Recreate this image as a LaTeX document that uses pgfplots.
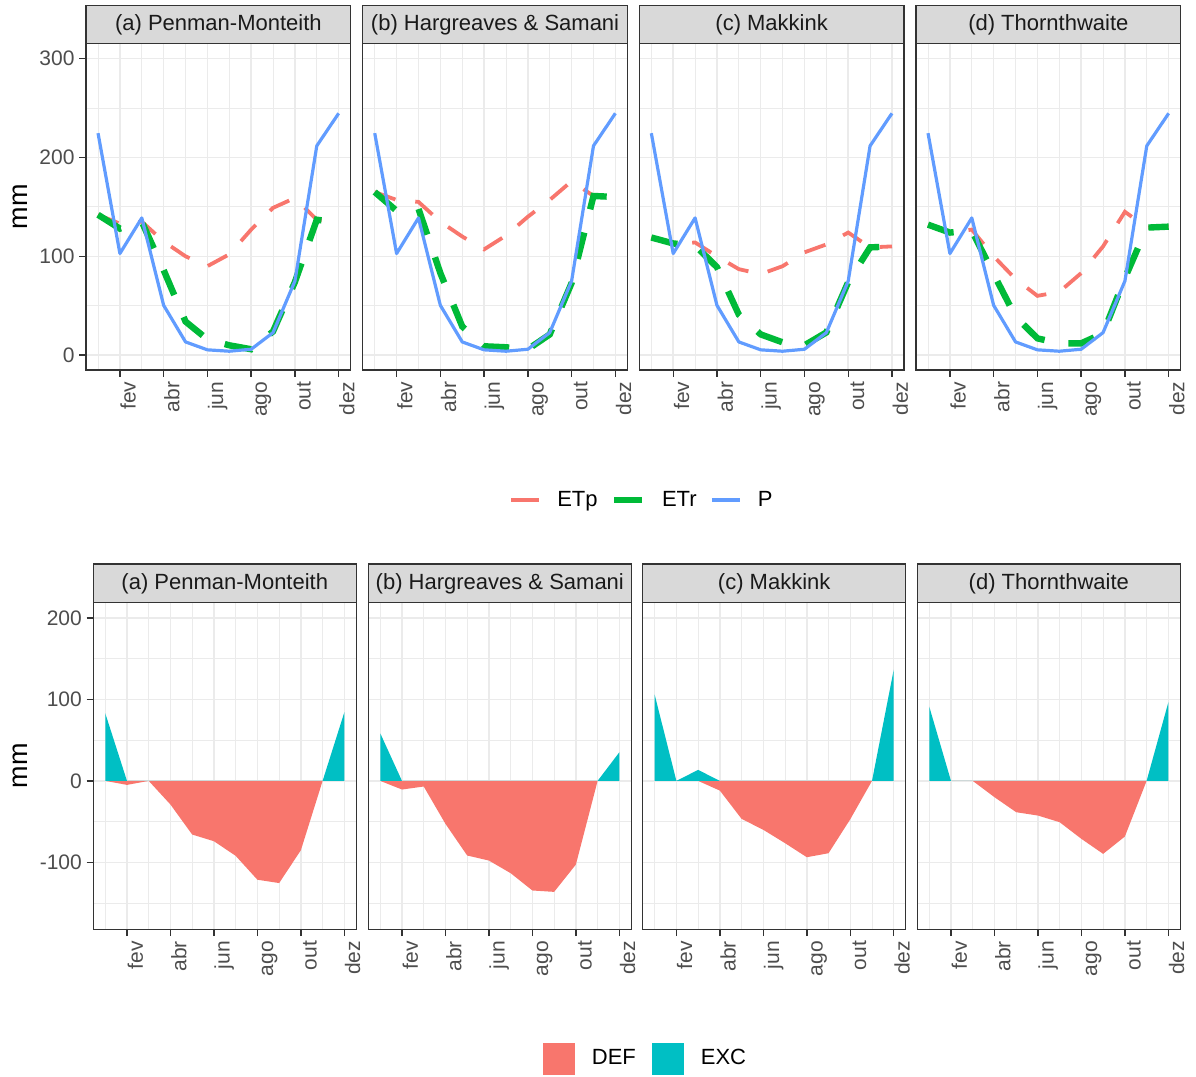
\documentclass[border=0pt]{standalone}
\usepackage{pgfplots}
\pgfplotsset{compat=1.18}
\usepackage{fontspec}
\setmainfont{Liberation Sans}
\definecolor{cetp}{HTML}{F8766D}
\definecolor{cetr}{HTML}{00BA38}
\definecolor{cp}{HTML}{619CFF}
\definecolor{cexc}{HTML}{00BFC4}
\definecolor{gridc}{HTML}{EBEBEB}
\definecolor{g20}{HTML}{333333}
\definecolor{g30}{HTML}{4D4D4D}
\definecolor{g85}{HTML}{D9D9D9}
\definecolor{g10}{HTML}{1A1A1A}

\pgfplotsset{
  panel/.style={
    scale only axis,
    clip=false,
    axis line style={g20, line width=0.65pt},
    grid=both,
    major grid style={gridc, line width=0.75pt},
    minor grid style={gridc, line width=0.4pt},
    tick align=outside,
    tick pos=left,
    major tick length=3.35pt,
    minor tick length=0pt,
    tick style={g20, line width=0.7pt},
    xmin=0.45, xmax=12.55,
    xtick={2,4,6,8,10,12},
    xticklabels={fev,abr,jun,ago,out,dez},
    minor xtick={1,3,5,7,9,11},
    tick label style={font=\fontsize{10.5}{12}\selectfont, text=g30},
    xticklabel style={rotate=90, anchor=north east, inner sep=0pt, text height=7.7pt, text depth=2.2pt},
    yticklabel style={anchor=east, inner sep=0pt},
    xticklabel shift=2.3pt,
    yticklabel shift=2.2pt,
    /pgf/number format/assume math mode=true,
  },
  toprow/.style={panel, width=132.35pt, height=163.15pt,
    ymin=-15, ymax=315, ytick={0,100,200,300}, minor ytick={50,150,250},
    yticklabels={0,100,200,300}},
  botrow/.style={panel, width=131.5pt, height=163.5pt,
    ymin=-182, ymax=219, ytick={-100,0,100,200}, minor ytick={-150,-50,50,150},
    yticklabels={-100,0,100,200}},
  noy/.style={yticklabels={}, ytick style={draw=none}},
  etp/.style={cetp, line width=1.9pt, dash pattern=on 11pt off 10pt},
  etr/.style={cetr, line width=3.2pt, dash pattern=on 13.5pt off 12pt},
  pp/.style={cp, line width=1.6pt, line join=round},
  def/.style={fill=cetp, draw=none},
  exc/.style={fill=cexc, draw=none},
  ylab/.style={every axis y label/.style={at={(axis description cs:#1,0.5)}, rotate=90, anchor=center, font=\fontsize{13.5}{15}\selectfont, text=black}, ylabel={mm}},
}
\newcommand{\strip}[2]{\node[anchor=south west, fill=g85, draw=g20, line width=0.65pt, outer sep=0pt, inner sep=0pt, minimum width=#1, minimum height=19.2pt, text height=8.3pt, text depth=2.4pt, font=\fontsize{11}{13}\selectfont, text=g10] at (rel axis cs:0,1) {#2};}

\begin{document}
\begin{tikzpicture}
\path[use as bounding box] (0pt,0pt) rectangle (598pt,-538.5pt);

% ---------- top row ----------
\begin{axis}[toprow, at={(43pt,-185pt)}, anchor=south west, ylab=-0.2475,
  legend columns=3,
  legend image code/.code={\draw[#1, solid] (0pt,0pt) -- (14pt,0pt);},
  legend style={at={(axis description cs:2.0961,-0.3984)}, anchor=center, draw=none, fill=none,
    font=\fontsize{11}{13}\selectfont, nodes={inner sep=0pt},
    /tikz/every odd column/.append style={column sep=8.2pt},
    /tikz/every even column/.append style={column sep=6.8pt}}]
\addplot[etp] coordinates {(1,142) (2,133) (3,135) (4,115) (5,100) (6,90) (7,102) (8,127) (9,149) (10,159) (11,137) (12,134)};
\addlegendentry{ETp}
\addplot[etr] coordinates {(1,142) (2,128) (3,135) (4,86) (5,34) (6,16) (7,10) (8,6) (9,24) (10,74) (11,137) (12,134)};
\addlegendentry{ETr}
\addplot[pp] coordinates {(1,224.5) (2,102.8) (3,138.8) (4,50.4) (5,13.4) (6,5.4) (7,4.0) (8,6.0) (9,22.8) (10,75) (11,211.7) (12,244.6)};
\addlegendentry{P}
\strip{132.35pt}{(a) Penman-Monteith}
\end{axis}

\begin{axis}[toprow, noy, at={(181.35pt,-185pt)}, anchor=south west]
\addplot[etp] coordinates {(1,165) (2,157) (3,155) (4,135) (5,120) (6,107) (7,121) (8,140) (9,157) (10,176) (11,161) (12,160)};
\addplot[etr] coordinates {(1,165) (2,146) (3,148) (4,83) (5,29) (6,9) (7,8) (8,6) (9,21) (10,73) (11,161) (12,160)};
\addplot[pp] coordinates {(1,224.5) (2,102.8) (3,138.8) (4,50.4) (5,13.4) (6,5.4) (7,4.0) (8,6.0) (9,22.8) (10,75) (11,211.7) (12,244.6)};
\strip{132.35pt}{(b) Hargreaves \& Samani}
\end{axis}

\begin{axis}[toprow, noy, at={(319.65pt,-185pt)}, anchor=south west]
\addplot[etp] coordinates {(1,119) (2,112) (3,114) (4,100) (5,87) (6,82) (7,90) (8,104) (9,112) (10,124) (11,109) (12,110)};
\addplot[etr] coordinates {(1,119) (2,113) (3,111) (4,89) (5,41) (6,21) (7,13) (8,10) (9,23) (10,74) (11,109) (12,110)};
\addplot[pp] coordinates {(1,224.5) (2,102.8) (3,138.8) (4,50.4) (5,13.4) (6,5.4) (7,4.0) (8,6.0) (9,22.8) (10,75) (11,211.7) (12,244.6)};
\strip{132.35pt}{(c) Makkink}
\end{axis}

\begin{axis}[toprow, noy, at={(458pt,-185pt)}, anchor=south west]
\addplot[etp] coordinates {(1,132) (2,124) (3,127) (4,100) (5,77) (6,60) (7,64) (8,83) (9,110) (10,145) (11,129) (12,130)};
\addplot[etr] coordinates {(1,132) (2,124) (3,126) (4,82) (5,39) (6,17) (7,12) (8,12) (9,22) (10,78) (11,129) (12,130)};
\addplot[pp] coordinates {(1,224.5) (2,102.8) (3,138.8) (4,50.4) (5,13.4) (6,5.4) (7,4.0) (8,6.0) (9,22.8) (10,75) (11,211.7) (12,244.6)};
\strip{132.35pt}{(d) Thornthwaite}
\end{axis}

% ---------- bottom row ----------
\begin{axis}[botrow, at={(46.65pt,-464.65pt)}, anchor=south west, ylab=-0.2768,
  legend columns=2,
  legend image code/.code={\fill[#1] (0pt,-8pt) rectangle (16pt,8pt);},
  legend style={at={(axis description cs:2.0958,-0.3951)}, anchor=center, draw=none, fill=none,
    font=\fontsize{11}{13}\selectfont, nodes={inner sep=0pt},
    /tikz/every odd column/.append style={column sep=8.5pt},
    /tikz/every even column/.append style={column sep=8pt}}]
\addplot[def] coordinates {(1,0) (2,-4.9) (3,0) (4,-29) (5,-65.8) (6,-74) (7,-91.9) (8,-121.2) (9,-125.3) (10,-85) (11,0) (12,0)} \closedcycle;
\addlegendentry{DEF}
\addplot[exc] coordinates {(1,83) (2,0) (3,0) (4,0) (5,0) (6,0) (7,0) (8,0) (9,0) (10,0) (11,0) (12,84.2)} \closedcycle;
\addlegendentry{EXC}
\strip{131.5pt}{(a) Penman-Monteith}
\end{axis}

\begin{axis}[botrow, noy, at={(184.15pt,-464.65pt)}, anchor=south west]
\addplot[def] coordinates {(1,0) (2,-10.6) (3,-6.9) (4,-52.7) (5,-91.5) (6,-97.7) (7,-113.2) (8,-134.4) (9,-136.1) (10,-102.6) (11,0) (12,0)} \closedcycle;
\addplot[exc] coordinates {(1,58.4) (2,0) (3,0) (4,0) (5,0) (6,0) (7,0) (8,0) (9,0) (10,0) (11,0) (12,35.1)} \closedcycle;
\strip{131.5pt}{(b) Hargreaves \& Samani}
\end{axis}

\begin{axis}[botrow, noy, at={(321.35pt,-464.65pt)}, anchor=south west]
\addplot[def] coordinates {(1,0) (2,0) (3,0) (4,-11.9) (5,-46.6) (6,-60) (7,-76.4) (8,-93.6) (9,-88.7) (10,-47) (11,0) (12,0)} \closedcycle;
\addplot[exc] coordinates {(1,105.8) (2,0) (3,13.5) (4,0) (5,0) (6,0) (7,0) (8,0) (9,0) (10,0) (11,0) (12,136.5)} \closedcycle;
\strip{131.5pt}{(c) Makkink}
\end{axis}

\begin{axis}[botrow, noy, at={(458.65pt,-464.65pt)}, anchor=south west]
\addplot[def] coordinates {(1,0) (2,0) (3,0) (4,-20) (5,-38.4) (6,-42.5) (7,-50.7) (8,-71.1) (9,-89.5) (10,-68.2) (11,0) (12,0)} \closedcycle;
\addplot[exc] coordinates {(1,91.1) (2,0) (3,0) (4,0) (5,0) (6,0) (7,0) (8,0) (9,0) (10,0) (11,0) (12,96.4)} \closedcycle;
\strip{131.5pt}{(d) Thornthwaite}
\end{axis}
\end{tikzpicture}
\end{document}
